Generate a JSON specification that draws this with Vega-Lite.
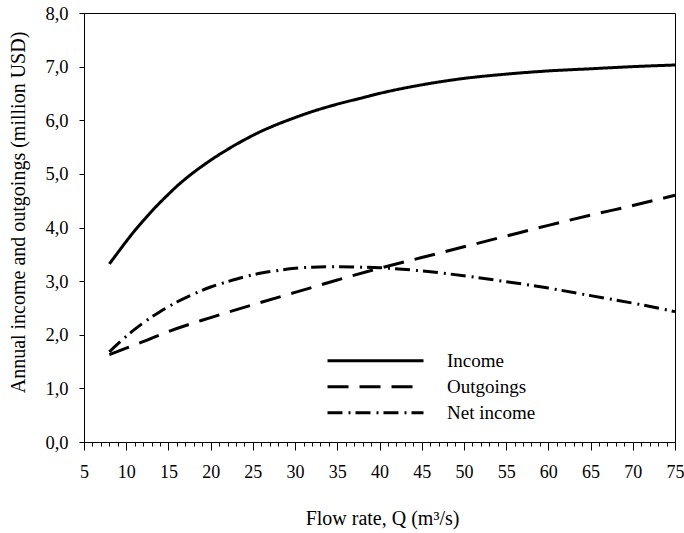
{
  "$schema": "https://vega.github.io/schema/vega-lite/v6.json",
  "width": 591,
  "height": 429,
  "autosize": {"type": "none"},
  "padding": {"left": 84, "top": 13, "right": 9, "bottom": 91},
  "background": "white",
  "config": {
    "view": {"stroke": "black", "strokeWidth": 1},
    "font": "Liberation Serif"
  },
  "data": {
    "values": [
      {"series": "Income", "Q": 8, "v": 3.32},
      {"series": "Income", "Q": 9, "v": 3.53},
      {"series": "Income", "Q": 10, "v": 3.74},
      {"series": "Income", "Q": 11, "v": 3.94},
      {"series": "Income", "Q": 12, "v": 4.125},
      {"series": "Income", "Q": 13, "v": 4.3},
      {"series": "Income", "Q": 14, "v": 4.465},
      {"series": "Income", "Q": 15, "v": 4.62},
      {"series": "Income", "Q": 16, "v": 4.77},
      {"series": "Income", "Q": 17, "v": 4.905},
      {"series": "Income", "Q": 18, "v": 5.03},
      {"series": "Income", "Q": 19, "v": 5.145},
      {"series": "Income", "Q": 20, "v": 5.255},
      {"series": "Income", "Q": 22, "v": 5.455},
      {"series": "Income", "Q": 24, "v": 5.635},
      {"series": "Income", "Q": 26, "v": 5.795},
      {"series": "Income", "Q": 28, "v": 5.93},
      {"series": "Income", "Q": 30, "v": 6.05},
      {"series": "Income", "Q": 32, "v": 6.16},
      {"series": "Income", "Q": 35, "v": 6.3},
      {"series": "Income", "Q": 38, "v": 6.42},
      {"series": "Income", "Q": 40, "v": 6.5},
      {"series": "Income", "Q": 45, "v": 6.66},
      {"series": "Income", "Q": 50, "v": 6.78},
      {"series": "Income", "Q": 55, "v": 6.86},
      {"series": "Income", "Q": 60, "v": 6.92},
      {"series": "Income", "Q": 65, "v": 6.96},
      {"series": "Income", "Q": 70, "v": 7.0},
      {"series": "Income", "Q": 75, "v": 7.03},
      {"series": "Outgoings", "Q": 8, "v": 1.63},
      {"series": "Outgoings", "Q": 10, "v": 1.75},
      {"series": "Outgoings", "Q": 12, "v": 1.87},
      {"series": "Outgoings", "Q": 15, "v": 2.06},
      {"series": "Outgoings", "Q": 20, "v": 2.32},
      {"series": "Outgoings", "Q": 25, "v": 2.56},
      {"series": "Outgoings", "Q": 30, "v": 2.79},
      {"series": "Outgoings", "Q": 35, "v": 3.02},
      {"series": "Outgoings", "Q": 40, "v": 3.24},
      {"series": "Outgoings", "Q": 45, "v": 3.44},
      {"series": "Outgoings", "Q": 50, "v": 3.64},
      {"series": "Outgoings", "Q": 55, "v": 3.84},
      {"series": "Outgoings", "Q": 60, "v": 4.04},
      {"series": "Outgoings", "Q": 65, "v": 4.23},
      {"series": "Outgoings", "Q": 70, "v": 4.41},
      {"series": "Outgoings", "Q": 75, "v": 4.6},
      {"series": "Net income", "Q": 8, "v": 1.68},
      {"series": "Net income", "Q": 9, "v": 1.83},
      {"series": "Net income", "Q": 10, "v": 1.97},
      {"series": "Net income", "Q": 11, "v": 2.1},
      {"series": "Net income", "Q": 12, "v": 2.22},
      {"series": "Net income", "Q": 14, "v": 2.43},
      {"series": "Net income", "Q": 16, "v": 2.61},
      {"series": "Net income", "Q": 18, "v": 2.76},
      {"series": "Net income", "Q": 20, "v": 2.89},
      {"series": "Net income", "Q": 22, "v": 2.99},
      {"series": "Net income", "Q": 24, "v": 3.08},
      {"series": "Net income", "Q": 26, "v": 3.15},
      {"series": "Net income", "Q": 28, "v": 3.2},
      {"series": "Net income", "Q": 30, "v": 3.24},
      {"series": "Net income", "Q": 32, "v": 3.26},
      {"series": "Net income", "Q": 35, "v": 3.27},
      {"series": "Net income", "Q": 38, "v": 3.26},
      {"series": "Net income", "Q": 40, "v": 3.25},
      {"series": "Net income", "Q": 45, "v": 3.19},
      {"series": "Net income", "Q": 50, "v": 3.1},
      {"series": "Net income", "Q": 55, "v": 2.99},
      {"series": "Net income", "Q": 60, "v": 2.87},
      {"series": "Net income", "Q": 65, "v": 2.73},
      {"series": "Net income", "Q": 70, "v": 2.59},
      {"series": "Net income", "Q": 75, "v": 2.43}
    ]
  },
  "mark": {"type": "line", "color": "black", "strokeWidth": 3, "interpolate": "monotone"},
  "encoding": {
    "x": {
      "field": "Q",
      "type": "quantitative",
      "scale": {"domain": [5, 75], "nice": false, "zero": false},
      "axis": {
        "title": "Flow rate, Q (m³/s)",
        "titleFont": "Liberation Serif",
        "titleFontSize": 20,
        "titleFontWeight": "normal",
        "titleColor": "black",
        "titleX": 298,
        "titleY": 76,
        "titleAlign": "center",
        "titleBaseline": "middle",
        "values": [5,6,7,8,9,10,11,12,13,14,15,16,17,18,19,20,21,22,23,24,25,26,27,28,29,30,31,32,33,34,35,36,37,38,39,40,41,42,43,44,45,46,47,48,49,50,51,52,53,54,55,56,57,58,59,60,61,62,63,64,65,66,67,68,69,70,71,72,73,74,75],
        "labelExpr": "datum.value % 5 === 0 ? datum.label : ''",
        "labelOverlap": false,
        "labelBound": false,
        "labelFlush": false,
        "labelFont": "Liberation Serif",
        "labelFontSize": 18,
        "labelColor": "black",
        "labelPadding": 13,
        "tickSize": {"condition": {"test": "datum.value % 5 === 0", "value": 8}, "value": 4},
        "tickColor": "black",
        "tickWidth": 1,
        "domainColor": "black",
        "domainWidth": 1,
        "grid": false
      }
    },
    "y": {
      "field": "v",
      "type": "quantitative",
      "scale": {"domain": [0, 8], "nice": false},
      "axis": {
        "title": "Annual income and outgoings (million USD)",
        "titleFont": "Liberation Serif",
        "titleFontSize": 20,
        "titleFontWeight": "normal",
        "titleColor": "black",
        "titleX": -66,
        "titleY": 199,
        "titleAngle": -90,
        "titleAlign": "center",
        "titleBaseline": "middle",
        "values": [0, 1, 2, 3, 4, 5, 6, 7, 8],
        "labelExpr": "replace(format(datum.value, '.1f'), '.', ',')",
        "labelFont": "Liberation Serif",
        "labelFontSize": 18.5,
        "labelColor": "black",
        "labelPadding": 11,
        "labelBound": false,
        "labelFlush": false,
        "tickSize": 5,
        "tickColor": "black",
        "domainColor": "black",
        "grid": false
      }
    },
    "strokeDash": {
      "field": "series",
      "type": "nominal",
      "scale": {
        "domain": ["Income", "Outgoings", "Net income"],
        "range": [[1, 0], [21, 11], [15, 6, 2, 5]]
      },
      "legend": {
        "title": null,
        "orient": "none",
        "legendX": 242,
        "legendY": 335,
        "padding": 0,
        "symbolType": "stroke",
        "symbolSize": 9216,
        "symbolStrokeWidth": 3,
        "symbolStrokeColor": "black",
        "clipHeight": 25.7,
        "rowPadding": 0,
        "labelOffset": 22,
        "labelFont": "Liberation Serif",
        "labelFontSize": 19,
        "labelColor": "black",
        "labelLimit": 300
      }
    }
  }
}
